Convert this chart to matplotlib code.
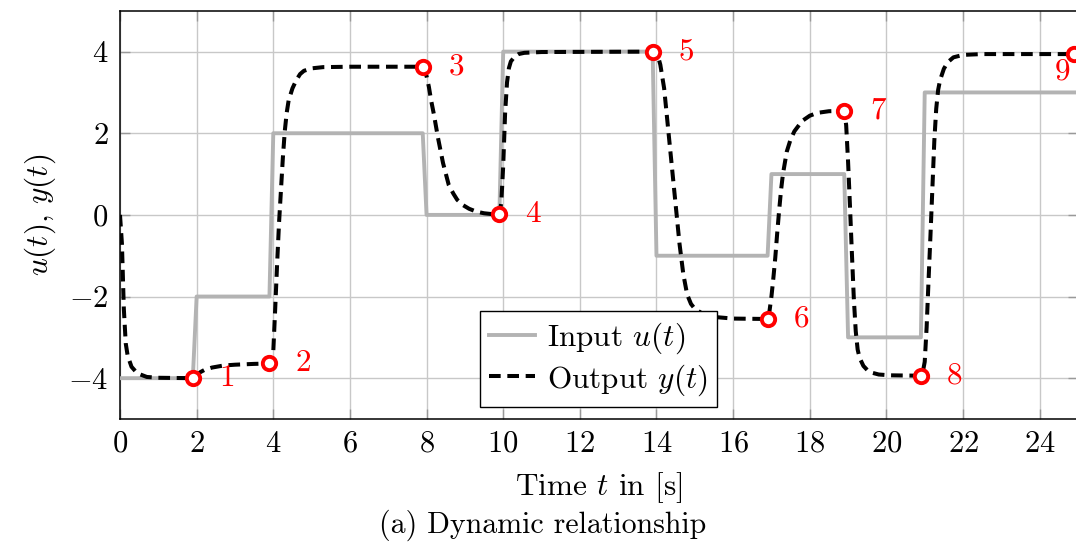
import matplotlib
matplotlib.use("Agg")
import matplotlib.pyplot as plt

# Input signal u(t): piecewise-constant levels, each switch takes one 0.1 s sample
t_in = [0.0, 1.9, 2.0, 3.9, 4.0, 7.9, 8.0, 9.9, 10.0, 13.9, 14.0,
        16.9, 17.0, 18.9, 19.0, 20.9, 21.0, 25.0]
u_in = [-4, -4, -2, -2, 2, 2, 0, 0, 4, 4, -1, -1, 1, 1, -3, -3, 3, 3]

# Output signal y(t)
t_out = [0.0, 0.05, 0.1, 0.15, 0.2, 0.3, 0.45, 0.7, 1.0, 1.9,
         2.0, 2.1, 2.2, 2.4, 2.7, 3.0, 3.5, 3.9,
         4.0, 4.05, 4.1, 4.15, 4.2, 4.25, 4.3, 4.35, 4.4, 4.5, 4.6, 4.7, 4.8,
         5.0, 5.3, 6.0, 7.9,
         8.0, 8.06, 8.12, 8.19, 8.3, 8.43, 8.58, 8.7, 8.8, 8.95, 9.11, 9.3,
         9.5, 9.7, 9.9,
         9.95, 10.0, 10.05, 10.1, 10.15, 10.2, 10.3, 10.4, 10.55, 11.0, 13.9,
         14.0, 14.05, 14.1, 14.2, 14.3, 14.4, 14.5, 14.6, 14.7, 14.8, 14.9,
         15.0, 15.2, 15.5, 16.0, 16.9,
         16.95, 17.0, 17.05, 17.1, 17.15, 17.2, 17.25, 17.3, 17.4, 17.5, 17.6,
         17.8, 18.0, 18.2, 18.5, 18.9,
         18.95, 19.0, 19.05, 19.1, 19.15, 19.2, 19.25, 19.3, 19.4, 19.5, 19.6,
         19.8, 20.1, 20.9,
         20.95, 21.0, 21.05, 21.1, 21.15, 21.2, 21.25, 21.3, 21.35, 21.4, 21.5,
         21.6, 21.75, 22.0, 22.5, 24.9]
y_out = [0.0, -0.7, -2.3, -3.15, -3.45, -3.72, -3.88, -3.97, -3.99, -4.0,
         -3.93, -3.85, -3.8, -3.74, -3.69, -3.67, -3.65, -3.64,
         -3.35, -2.3, -1.2, -0.2, 0.6, 1.4, 2.05, 2.5, 2.8, 3.1, 3.3, 3.45, 3.53,
         3.59, 3.62, 3.63, 3.63,
         3.4, 3.14, 2.8, 2.47, 1.88, 1.27, 0.73, 0.52, 0.37, 0.24, 0.15, 0.08,
         0.04, 0.02, 0.01,
         0.3, 1.2, 2.5, 3.25, 3.6, 3.76, 3.88, 3.94, 3.97, 3.99, 4.0,
         3.95, 3.85, 3.68, 3.1, 2.15, 1.2, 0.25, -0.7, -1.45, -1.95, -2.18,
         -2.3, -2.42, -2.5, -2.54, -2.55,
         -2.35, -2.0, -1.55, -1.05, -0.45, 0.1, 0.6, 1.0, 1.55, 1.85, 2.05,
         2.3, 2.43, 2.5, 2.54, 2.55,
         2.2, 1.3, 0.2, -0.95, -2.05, -2.85, -3.3, -3.5, -3.7, -3.8, -3.86,
         -3.91, -3.93, -3.94,
         -3.85, -3.6, -2.75, -1.6, -0.5, 0.65, 1.8, 2.6, 3.06, 3.3, 3.58,
         3.74, 3.86, 3.92, 3.94, 3.94]

# Sampling instants that are highlighted and numbered
marker_t = [1.9, 3.9, 7.9, 9.9, 13.9, 16.9, 18.9, 20.9, 24.9]
marker_labels = ["1", "2", "3", "4", "5", "6", "7", "8", "9"]

x_ticks = [0, 2, 4, 6, 8, 10, 12, 14, 16, 18, 20, 22, 24]
y_ticks = [-4, -2, 0, 2, 4]

FS = 22.5

plt.rcParams.update({
    "font.family": "serif",
    "font.serif": ["cmr10"],
    "mathtext.fontset": "cm",
    "axes.formatter.use_mathtext": True,
    "font.size": FS,
    "lines.scale_dashes": False,
})

W, H = 1076, 549
fig = plt.figure(figsize=(W / 100, H / 100), dpi=100)
ax_l, ax_r, ax_t, ax_b = 120, 1078, 10.8, 419
ax = fig.add_axes([ax_l / W, 1 - ax_b / H, (ax_r - ax_l) / W, (ax_b - ax_t) / H])

ax.set_xlim(0, 25)
ax.set_ylim(-5, 5)
ax.set_xticks(x_ticks)
ax.set_yticks(y_ticks)
ax.grid(True, color="#c8c8c8", lw=1.0)
ax.set_axisbelow(True)
ax.tick_params(direction="in", length=7, width=1, color="#999999",
               top=True, right=True, pad=8.2, labelsize=22)
for sp in ax.spines.values():
    sp.set_linewidth(1.1)
    sp.set_color("black")

ax.plot(t_in, u_in, color="#b3b3b3", lw=2.8, label="Input $u(t)$", zorder=3)
ax.plot(t_out, y_out, color="black", lw=2.9, ls=(0, (8.4, 4.8)),
        label="Output $y(t)$", zorder=4)

marker_y = [y_out[t_out.index(tm)] for tm in marker_t]
ax.plot(marker_t, marker_y, "o", ms=9.6, mew=2.8, mec="red", mfc="white",
        zorder=5)

for tm, ym, lab in zip(marker_t, marker_y, marker_labels):
    off = (-8.3, -12.5) if lab == "9" else (24.5, 0)
    ax.annotate(lab, (tm, ym), xytext=off, textcoords="offset points",
                color="red", ha="center", va="center", fontsize=22.5,
                zorder=6)

leg = ax.legend(loc="lower left",
                bbox_to_anchor=((480 - ax_l) / (ax_r - ax_l),
                                (ax_b - 407) / (ax_b - ax_t)),
                borderaxespad=0, fancybox=False, edgecolor="black",
                framealpha=1, handlelength=1.45, handletextpad=0.4,
                labelspacing=0.2, borderpad=0.3, fontsize=FS)
leg.get_frame().set_linewidth(1.0)
leg.set_zorder(7)

ax.set_xlabel("Time $t$ in [s]", va="baseline", fontsize=FS)
ax.xaxis.set_label_coords(0.5, (ax_b - 495) / (ax_b - ax_t))
ax.set_ylabel("$u(t)$, $y(t)$", va="center", fontsize=FS)
ax.yaxis.set_label_coords((40 - ax_l) / (ax_r - ax_l), 0.5)

fig.text(543 / W, 1 - 533 / H, "(a) Dynamic relationship",
         ha="center", va="baseline", fontsize=21.5)

fig.savefig("out.png", dpi=100)
